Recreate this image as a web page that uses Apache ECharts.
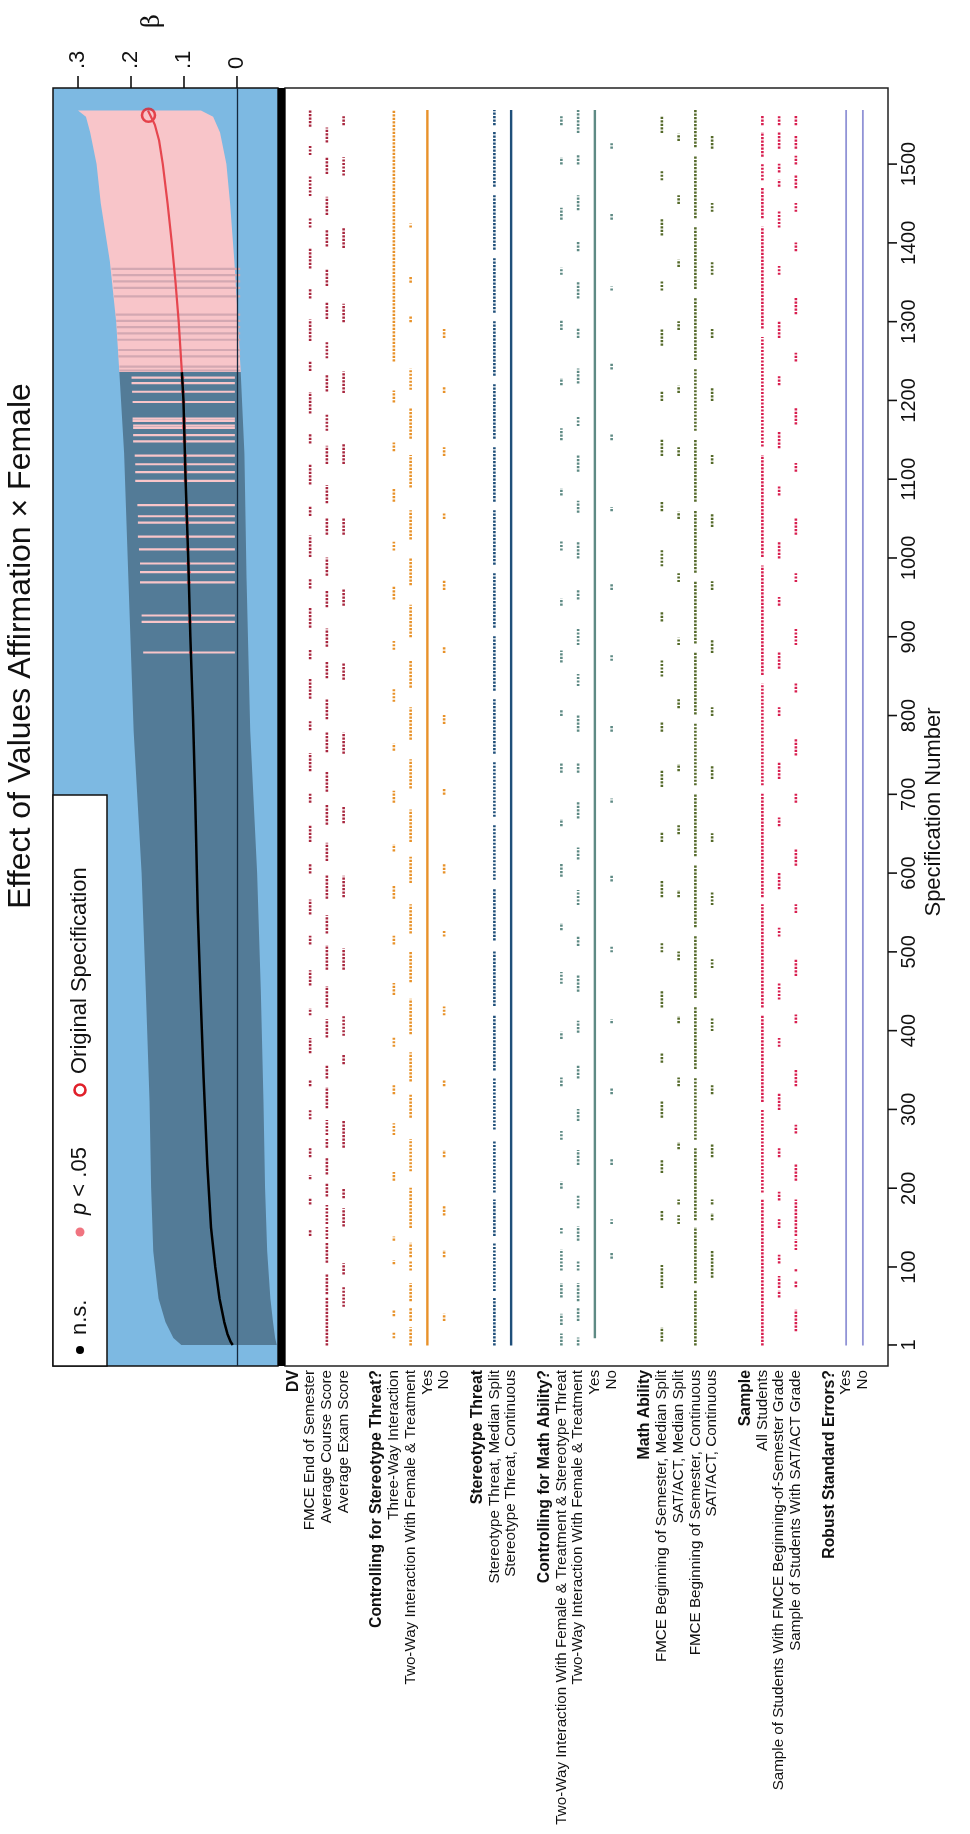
<!DOCTYPE html>
<html><head><meta charset="utf-8">
<script src="https://cdn.jsdelivr.net/npm/echarts@6/dist/echarts.min.js"></script>
<style>html,body{margin:0;padding:0;background:#fff}#c{width:970px;height:1834px}</style>
</head><body><div id="c"></div>
<script>
const FONT = '"Liberation Sans Narrow","Liberation Sans",Arial,sans-serif';

// ---------- data ----------
const specTicks = [1,100,200,300,400,500,600,700,800,900,1000,1100,1200,1300,1400,1500];
const betaTicks = [0, 0.1, 0.2, 0.3];

// confidence band knots (spec, lower, upper)
const ciSpec  = [1, 10, 30, 60, 120, 200, 310, 450, 600, 780, 975, 1133, 1236, 1300, 1377, 1450, 1500, 1540, 1560, 1568];
const ciLower = [-0.075,-0.072,-0.068,-0.063,-0.057,-0.053,-0.050,-0.045,-0.038,-0.025,-0.018,-0.014,-0.007,-0.002,0.005,0.013,0.020,0.032,0.045,0.068];
const ciUpper = [0.105,0.120,0.135,0.148,0.158,0.162,0.165,0.172,0.180,0.195,0.205,0.213,0.222,0.228,0.240,0.257,0.265,0.277,0.285,0.300];

// point estimates along sorted specifications
const estSpec  = [1, 5, 15, 30, 60, 100, 150, 230, 340, 450, 550, 700, 800, 900, 1000, 1100, 1200, 1236, 1300, 1350, 1400, 1450, 1500, 1530, 1550, 1568];
const estValue = [0.008,0.012,0.018,0.024,0.033,0.041,0.049,0.056,0.063,0.069,0.074,0.079,0.083,0.088,0.092,0.097,0.101,0.104,0.110,0.116,0.123,0.131,0.140,0.147,0.155,0.168];

const sigStart = 1236; // from here on, specifications are p < .05 unless listed in nsStripes
// isolated significant specs below sigStart: [spec, lower, upper, estimate]
const sigStripes = [
  [880,0.004,0.177,0.087],[919,0.004,0.180,0.089],[927,0.004,0.180,0.089],[969,0.004,0.183,0.091],
  [982,0.004,0.183,0.091],[993,0.004,0.183,0.092],[1011,0.004,0.185,0.093],[1027,0.004,0.187,0.094],
  [1045,0.004,0.187,0.094],[1053,0.004,0.187,0.095],[1067,0.004,0.188,0.095],[1098,0.004,0.192,0.097],
  [1109,0.004,0.192,0.097],[1119,0.004,0.192,0.098],[1130,0.004,0.193,0.098],[1148,0.004,0.196,0.099],
  [1156,0.004,0.196,0.099],[1165,0.004,0.196,0.100],[1168,0.004,0.196,0.100],[1174,0.004,0.197,0.100],
  [1177,0.004,0.197,0.100],[1198,0.004,0.197,0.101],[1211,0.004,0.198,0.102],[1222,0.004,0.199,0.103],[1229,0.004,0.199,0.103]
];
// non-significant specs inside the significant block: [spec, lower, upper, estimate]
const nsStripes = [
  [1238,-0.006,0.222,0.104],[1243,-0.006,0.222,0.105],[1256,-0.006,0.224,0.106],[1264,-0.006,0.224,0.107],
  [1277,-0.006,0.226,0.108],[1285,-0.006,0.226,0.109],[1293,-0.006,0.227,0.109],[1301,-0.006,0.228,0.110],
  [1309,-0.006,0.229,0.111],[1332,-0.006,0.232,0.114],[1343,-0.006,0.233,0.115],[1351,-0.006,0.234,0.116],
  [1359,-0.006,0.235,0.117],[1367,-0.006,0.237,0.118]
];
const originalSpec = [1562, 0.167];

// specification-curve rows (category order along the lower panel)
const rowLabels = ['DV','FMCE End of Semester','Average Course Score','Average Exam Score','',
  'Controlling for Stereotype Threat?','Three-Way Interaction','Two-Way Interaction With Female & Treatment','Yes','No','',
  'Stereotype Threat','Stereotype Threat, Median Split','Stereotype Threat, Continuous','',
  'Controlling for Math Ability?','Two-Way Interaction With Female & Treatment & Stereotype Threat','Two-Way Interaction With Female & Treatment','Yes','No','',
  'Math Ability','FMCE Beginning of Semester, Median Split','SAT/ACT, Median Split','FMCE Beginning of Semester, Continuous','SAT/ACT, Continuous','',
  'Sample','All Students','Sample of Students With FMCE Beginning-of-Semester Grade','Sample of Students With SAT/ACT Grade','',
  'Robust Standard Errors?','Yes','No',''];
const headingRows = [0,5,11,15,21,27,32];

// runs of specification numbers in which each option is used: [first, last]
const dvFmceEnd   = [[140,146],[180,186],[212,216],[240,250],[288,300],[330,336],[372,390],[420,428],[458,476],[510,520],[548,566],[600,612],[640,660],[690,700],[730,752],[782,792],[822,846],[872,884],[912,936],[962,974],[1002,1028],[1054,1066],[1094,1118],[1146,1158],[1184,1210],[1238,1250],[1276,1302],[1330,1342],[1368,1392],[1420,1432],[1460,1484],[1512,1524],[1548,1568]];
const dvCourse    = [[1,62],[66,90],[106,130],[136,150],[155,178],[190,205],[218,238],[252,262],[268,286],[302,328],[340,356],[392,414],[430,456],[478,508],[524,546],[568,598],[616,638],[662,686],[704,728],[754,778],[796,820],[848,868],[888,910],[938,958],[978,1000],[1030,1050],[1070,1092],[1120,1142],[1162,1182],[1212,1232],[1254,1274],[1304,1324],[1346,1366],[1396,1416],[1436,1458],[1488,1508],[1528,1546]];
const dvExam      = [[50,75],[91,104],[152,174],[188,200],[252,286],[358,370],[394,418],[478,504],[570,596],[664,684],[752,778],[846,866],[940,960],[1030,1050],[1120,1144],[1210,1236],[1300,1322],[1394,1418],[1486,1508],[1550,1560]];
const cstThree    = [[10,17],[38,45],[104,108],[134,138],[210,220],[268,282],[320,330],[380,392],[446,460],[510,520],[568,584],[628,636],[690,704],[756,764],[818,834],[884,894],[948,964],[1010,1020],[1072,1088],[1136,1146],[1198,1212],[1250,1568]];
const cstTwo      = [[1,23],[32,48],[57,79],[96,108],[113,130],[150,200],[222,262],[290,318],[336,372],[396,440],[462,500],[524,560],[588,620],[640,680],[708,744],[770,810],[836,870],[900,940],[966,1000],[1024,1060],[1090,1130],[1152,1190],[1214,1240],[1300,1306],[1350,1356],[1420,1424]];
const cstYes      = [[1,1568]];
const cstNo       = [[32,40],[113,121],[166,177],[240,248],[330,336],[420,430],[520,526],[600,612],[700,706],[790,800],[880,886],[960,972],[1050,1056],[1130,1140],[1210,1216],[1280,1290]];
const stMedian    = [[1,60],[70,130],[140,185],[195,260],[275,340],[350,420],[432,500],[515,580],[592,660],[672,740],[752,820],[832,900],[912,980],[992,1060],[1072,1140],[1152,1220],[1232,1300],[1312,1380],[1392,1460],[1472,1540],[1550,1568]];
const stCont      = [[1,1568]];
const cmaThree    = [[1,15],[27,40],[62,79],[96,122],[143,150],[200,208],[262,272],[330,340],[390,398],[460,474],[528,536],[596,612],[660,668],[728,740],[800,806],[868,882],[940,948],[1010,1022],[1080,1088],[1150,1164],[1220,1228],[1290,1302],[1360,1368],[1430,1444],[1500,1508],[1550,1560]];
const cmaTwo      = [[1,10],[32,48],[57,79],[96,108],[134,151],[175,190],[230,248],[286,300],[340,356],[398,412],[450,470],[508,520],[560,578],[618,632],[670,690],[728,740],[780,800],[838,852],[890,910],[948,960],[1000,1020],[1058,1072],[1110,1130],[1168,1180],[1222,1240],[1280,1292],[1330,1350],[1390,1402],[1442,1460],[1500,1512],[1540,1568]];
const cmaYes      = [[10,1568]];
const cmaNo       = [[111,117],[155,160],[230,236],[320,326],[410,414],[500,506],[590,596],[690,694],[780,786],[870,876],[960,966],[1060,1064],[1150,1156],[1240,1246],[1340,1344],[1430,1436],[1520,1526]];
const maFmceSplit = [[6,23],[74,102],[160,172],[220,236],[290,310],[360,372],[430,450],[500,512],[570,590],[640,652],[710,730],[780,792],[850,870],[920,932],[990,1010],[1060,1072],[1130,1150],[1200,1212],[1270,1290],[1340,1352],[1410,1430],[1480,1492],[1540,1560]];
const maSatSplit  = [[155,165],[180,185],[250,258],[330,340],[410,418],[490,500],[570,578],[650,660],[730,738],[810,820],[890,898],[970,980],[1050,1058],[1130,1140],[1210,1218],[1290,1300],[1370,1378],[1450,1460],[1530,1538]];
const maFmceCont  = [[1,70],[80,150],[160,250],[262,340],[352,430],[442,520],[532,610],[622,700],[712,790],[802,880],[892,970],[982,1060],[1072,1150],[1162,1240],[1252,1330],[1342,1420],[1432,1510],[1522,1568]];
const maSatCont   = [[87,121],[160,168],[180,185],[240,256],[320,330],[400,416],[480,490],[560,576],[640,650],[720,736],[800,810],[880,896],[960,970],[1040,1056],[1120,1130],[1200,1216],[1280,1290],[1360,1376],[1440,1450],[1520,1536]];
const smAll       = [[1,185],[195,300],[310,420],[430,560],[570,700],[712,840],[852,990],[1002,1130],[1142,1280],[1292,1420],[1432,1470],[1480,1500],[1510,1540],[1550,1562]];
const smFmce      = [[62,70],[74,88],[105,115],[150,160],[185,195],[240,250],[300,320],[380,390],[440,460],[520,530],[580,600],[660,670],[720,740],[800,810],[860,880],[940,950],[1000,1020],[1080,1090],[1140,1160],[1220,1230],[1280,1300],[1360,1370],[1420,1440],[1472,1480],[1490,1500],[1520,1540],[1550,1560]];
const smSat       = [[19,45],[75,82],[95,97],[122,135],[140,185],[210,230],[270,280],[330,350],[410,420],[470,490],[550,560],[610,630],[690,700],[750,770],[830,840],[890,910],[970,980],[1030,1050],[1110,1120],[1170,1190],[1250,1260],[1310,1330],[1390,1400],[1440,1450],[1470,1485],[1500,1510],[1520,1535],[1550,1562]];
const rseYes      = [[1,1568]];
const rseNo       = [[1,1568]];

// ---------- layout / styles ----------
const C = {dv:'#a8273f', cst:'#e8922a', st:'#1f4f7a', cma:'#5e8a84', ma:'#556a2a', sm:'#d81e4f', rse:'#9193d6'};
// [category index, runs, colour, drawn as continuous line?]
const rowSeries = [
  [1,dvFmceEnd,C.dv,false],[2,dvCourse,C.dv,false],[3,dvExam,C.dv,false],
  [6,cstThree,C.cst,false],[7,cstTwo,C.cst,false],[8,cstYes,C.cst,true],[9,cstNo,C.cst,false],
  [12,stMedian,C.st,false],[13,stCont,C.st,true],
  [16,cmaThree,C.cma,false],[17,cmaTwo,C.cma,false],[18,cmaYes,C.cma,true],[19,cmaNo,C.cma,false],
  [22,maFmceSplit,C.ma,false],[23,maSatSplit,C.ma,false],[24,maFmceCont,C.ma,false],[25,maSatCont,C.ma,false],
  [28,smAll,C.sm,false],[29,smFmce,C.sm,false],[30,smSat,C.sm,false],
  [33,rseYes,C.rse,true],[34,rseNo,C.rse,true]
];
const SPEC_MIN = -25.7, SPEC_MAX = 1596.6;
const BETA_MIN = -0.0774, BETA_MAX = 0.3472;
const cats = rowLabels.map((_, i) => 'r' + i);

const runData = [];
rowSeries.forEach(([cat, runs, color, solid]) => runs.forEach(r => runData.push({value:[cat, r[0], r[1]], color, solid})));

function bandPolygon(filterFn, color) {
  const idx = ciSpec.map((s, i) => i).filter(i => filterFn(ciSpec[i]));
  return function (params, api) {
    const pts = [];
    idx.forEach(i => pts.push(api.coord([ciUpper[i], ciSpec[i]])));
    idx.slice().reverse().forEach(i => pts.push(api.coord([ciLower[i], ciSpec[i]])));
    return {type:'polygon', shape:{points:pts}, style:{fill: color}};
  };
}
function stripeRender(color) {
  return function (params, api) {
    const s = api.value(0), lo = api.value(1), hi = api.value(2);
    const a = api.coord([hi, s + 1.4]);
    const b = api.coord([lo, s - 1.4]);
    return {type:'rect', shape:{x:a[0], y:a[1], width:b[0]-a[0], height:b[1]-a[1]}, style:{fill:color}};
  };
}

const chart = echarts.init(document.getElementById('c'), null, {renderer:'canvas'});
const txt = {fontFamily: FONT, color: '#111'};
const rotText = (x, y, text, size, align, extra) => ({type:'text', x, y, rotation:Math.PI/2, z:101,
  style:Object.assign({text, font: size + 'px ' + FONT, fill:'#111', align, verticalAlign:'middle', textAlign:align, textVerticalAlign:'middle'}, extra || {})});

chart.setOption({
  backgroundColor: '#fff',
  animation: false,
  grid: [
    {left:53, top:88, width:225, height:1278, show:true, backgroundColor:'#7db9e2', borderColor:'#111', borderWidth:1.5, containLabel:false, outerBoundsMode:'none'},
    {left:285, top:88, width:603, height:1278, show:true, backgroundColor:'#fff', borderColor:'#222', borderWidth:1.5, containLabel:false, outerBoundsMode:'none'}
  ],
  xAxis: [
    {gridIndex:0, type:'value', position:'top', inverse:true, min:BETA_MIN, max:BETA_MAX,
     splitLine:{show:false}, axisLine:{show:false}, axisTick:{show:false},
     axisLabel:{show:true, customValues:betaTicks, rotate:90, margin:19, fontSize:22, ...txt,
       formatter: v => v === 0 ? '0' : '.' + Math.round(v*10)}},
    {gridIndex:1, type:'category', position:'bottom', data:cats, boundaryGap:true,
     axisLine:{show:false}, axisTick:{show:false}, splitLine:{show:false},
     axisLabel:{interval:0, rotate:90, margin:4, ...txt,
       formatter:(v, i) => {const t = rowLabels[i]; if (!t) return ''; return headingRows.includes(i) ? '{h|' + t + '}' : '{n|' + t + '}';},
       rich:{h:{fontFamily:FONT, fontWeight:'bold', fontSize:15.8, color:'#111'}, n:{fontFamily:FONT, fontSize:15.2, color:'#111'}}}}
  ],
  yAxis: [
    {gridIndex:0, type:'value', min:SPEC_MIN, max:SPEC_MAX, show:false},
    {gridIndex:1, type:'value', position:'right', min:SPEC_MIN, max:SPEC_MAX,
     splitLine:{show:false}, axisLine:{show:false}, axisTick:{show:false},
     axisLabel:{show:true, customValues:specTicks, rotate:90, margin:11, fontSize:20, ...txt, formatter: v => String(v)}}
  ],
  series: [
    {name:'nsband', type:'custom', xAxisIndex:0, yAxisIndex:0, data:[[0,0]], clip:true, renderItem: bandPolygon(s => s <= sigStart, '#537b97')},
    {name:'sigband', type:'custom', xAxisIndex:0, yAxisIndex:0, data:[[0,0]], clip:true, renderItem: bandPolygon(s => s >= sigStart, '#f8c5c9')},
    {name:'sigStripes', type:'custom', xAxisIndex:0, yAxisIndex:0, data:sigStripes, clip:true, renderItem: stripeRender('#f8c5c9'),
     encode:{x:[1,2], y:0}},
    {name:'nsStripes', type:'custom', xAxisIndex:0, yAxisIndex:0, data:nsStripes, clip:true, renderItem: stripeRender('#d3a8b2'),
     encode:{x:[1,2], y:0}},
    {name:'zero', type:'line', xAxisIndex:0, yAxisIndex:0, data:[], silent:true,
     markLine:{symbol:'none', silent:true, label:{show:false}, lineStyle:{color:'#15293d', width:1.3, type:'solid'}, data:[{xAxis:0}]}},
    {name:'est-ns', type:'line', xAxisIndex:0, yAxisIndex:0, showSymbol:false, lineStyle:{color:'#000', width:2.5},
     data: estSpec.map((s, i) => [estValue[i], s]).filter(d => d[1] <= sigStart)},
    {name:'est-sig', type:'line', xAxisIndex:0, yAxisIndex:0, showSymbol:false, lineStyle:{color:'#e6464f', width:2.2},
     data: estSpec.map((s, i) => [estValue[i], s]).filter(d => d[1] >= sigStart)},
    {name:'est-sig-dots', type:'scatter', xAxisIndex:0, yAxisIndex:0, symbolSize:4, itemStyle:{color:'#e6464f'},
     data: sigStripes.map(d => [d[3], d[0]])},
    {name:'original', type:'scatter', xAxisIndex:0, yAxisIndex:0, symbol:'circle', symbolSize:13,
     itemStyle:{color:'rgba(0,0,0,0)', borderColor:'#e0202a', borderWidth:2.6}, data:[[originalSpec[1], originalSpec[0]]]},
    {name:'betaTicks', type:'custom', xAxisIndex:0, yAxisIndex:0, clip:false, silent:true, data: betaTicks.map(v => [v, SPEC_MAX]),
     renderItem:(params, api) => {
       const p = api.coord([api.value(0), api.value(1)]);
       return {type:'line', shape:{x1:p[0], y1:p[1], x2:p[0], y2:p[1]-12}, style:{stroke:'#111', lineWidth:1.6}};
     }},
    {name:'specTicks', type:'custom', xAxisIndex:1, yAxisIndex:1, clip:false, silent:true, data: specTicks.map(v => [0, v]),
     renderItem:(params, api) => {
       const cs = params.coordSys;
       const p = api.coord([0, api.value(1)]);
       const x0 = cs.x + cs.width;
       return {type:'line', shape:{x1:x0, y1:p[1], x2:x0+9, y2:p[1]}, style:{stroke:'#111', lineWidth:1.6}};
     }},
    {name:'rows', type:'custom', xAxisIndex:1, yAxisIndex:1, clip:true, data: runData,
     encode:{x:0, y:[1,2]},
     renderItem:(params, api) => {
       const d = runData[params.dataIndex];
       const c = api.value(0), s0 = api.value(1), s1 = api.value(2);
       const a = api.coord([c, s1 + 0.6]), b = api.coord([c, s0 - 0.6]);
       if (d.solid) {
         return {type:'line', shape:{x1:a[0], y1:b[1], x2:a[0], y2:a[1]},
                 style:{stroke:d.color, lineWidth: d.color === C.rse ? 1.8 : 2.4}};
       }
       return {type:'line', shape:{x1:a[0], y1:b[1], x2:a[0], y2:a[1]},
               style:{stroke:d.color, lineWidth:2.6, lineDash:[2.2, 1.3], lineCap:'butt'}};
     }}
  ],
  graphic: [
    {type:'rect', x:278, y:88, shape:{width:7, height:1278}, style:{fill:'#000'}, z:100},
    rotText(21, 646, 'Effect of Values Affirmation \u00d7 Female', 32, 'center'),
    {type:'text', x:153, y:21, rotation:Math.PI/2, z:100,
     style:{text:'\u03b2', font:'24px "DejaVu Serif",serif', fill:'#111', align:'center', verticalAlign:'middle', textAlign:'center', textVerticalAlign:'middle'}},
    rotText(934, 812, 'Specification Number', 22, 'center'),
    // legend
    {type:'rect', x:53, y:795, shape:{width:54, height:571}, style:{fill:'#fff', stroke:'#111', lineWidth:1.5}, z:100},
    {type:'circle', x:80, y:1350, shape:{r:4}, style:{fill:'#000'}, z:101},
    rotText(80, 1335, 'n.s.', 22, 'left'),
    {type:'circle', x:80, y:1232, shape:{r:4.5}, style:{fill:'#f07480'}, z:101},
    rotText(80, 1215, '{i|p} < .05', 22, 'left', {rich:{i:{fontStyle:'italic', fontFamily:FONT, fontSize:22}}}),
    {type:'circle', x:80, y:1090, shape:{r:5.5}, style:{fill:'none', stroke:'#e0202a', lineWidth:2.6}, z:101},
    rotText(80, 1074, 'Original Specification', 22, 'left')
  ]
});
</script></body></html>
